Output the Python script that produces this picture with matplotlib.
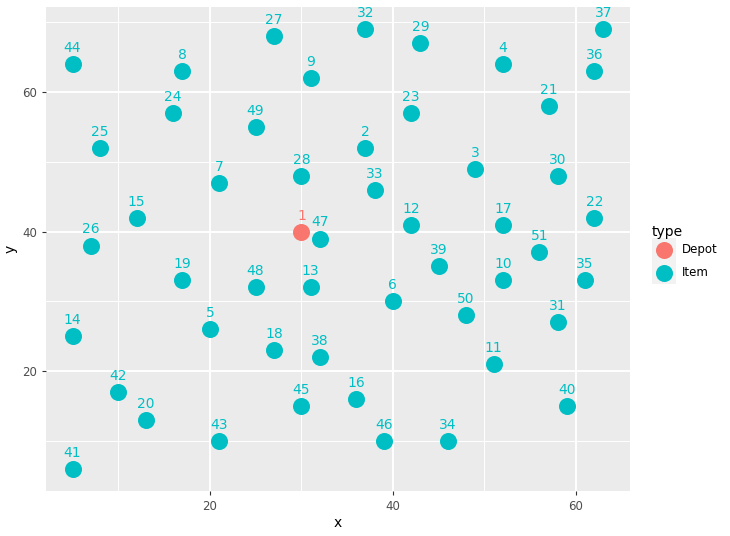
import matplotlib
matplotlib.use("Agg")
import matplotlib.pyplot as plt
from matplotlib.patches import Rectangle

ids = list(range(1, 52))
xs = [30, 37, 49, 52, 20, 40, 21, 17, 31, 52, 51, 42, 31, 5, 12, 36, 52, 27, 17, 13,
      57, 62, 42, 16, 8, 7, 27, 30, 43, 58, 58, 37, 38, 46, 61, 62, 63, 32, 45, 59,
      5, 10, 21, 5, 30, 39, 32, 25, 25, 48, 56]
ys = [40, 52, 49, 64, 26, 30, 47, 63, 62, 33, 21, 41, 32, 25, 42, 16, 41, 23, 33, 13,
      58, 42, 57, 57, 52, 38, 68, 48, 67, 48, 27, 69, 46, 10, 33, 63, 69, 22, 35, 15,
      6, 17, 10, 64, 15, 10, 39, 32, 55, 28, 37]
types = ["Depot"] + ["Item"] * 50
palette = {"Depot": "#F8766D", "Item": "#00BFC4"}
legend_levels = ["Depot", "Item"]

W, H = 730, 536
fig = plt.figure(figsize=(7.3, 5.36), dpi=100)
ax = fig.add_axes([46/W, 1 - 491/H, (630-46)/W, (491-7)/H])
ax.set_facecolor("#EBEBEB")
for s in ax.spines.values():
    s.set_visible(False)

xmin, xmax = min(xs), max(xs)
ymin, ymax = min(ys), max(ys)
dx = (xmax - xmin) * 0.05
dy = (ymax - ymin) * 0.05
ax.set_xlim(xmin - dx, xmax + dx)
ax.set_ylim(ymin - dy, ymax + dy)

ax.set_xticks([20, 40, 60])
ax.set_yticks([20, 40, 60])
ax.set_xticks([10, 30, 50], minor=True)
ax.set_yticks([10, 30, 50, 70], minor=True)
ax.grid(True, which="major", color="white", linewidth=1.4)
ax.grid(True, which="minor", color="white", linewidth=0.7)
ax.set_axisbelow(True)
ax.tick_params(which="major", length=3, color="#333333", labelcolor="#4D4D4D", labelsize=8.5)
ax.tick_params(which="minor", length=0)

for i, x, y, t in zip(ids, xs, ys, types):
    c = palette[t]
    ax.scatter([x], [y], s=150, color=c, zorder=3, linewidths=0)
    ax.annotate(str(i), (x, y), xytext=(0, 6.5), textcoords="offset points",
                ha="center", va="bottom", color=c, fontsize=10, zorder=4)

ax.set_xlabel("x", fontsize=10, labelpad=2)
ax.set_ylabel("y", fontsize=10, labelpad=3)

# manual ggplot-style legend in pixel coordinates
lax = fig.add_axes([0, 0, 1, 1], facecolor="none")
lax.set_xlim(0, W)
lax.set_ylim(H, 0)
lax.axis("off")
lax.text(652, 232, "type", fontsize=10, ha="left", va="center")
for k, lvl in enumerate(legend_levels):
    cy = 250 + k * 23
    lax.add_patch(Rectangle((652, cy - 12), 24, 23, facecolor="#F2F2F2", edgecolor="none"))
    lax.scatter([664], [cy], s=150, color=palette[lvl], linewidths=0, zorder=3)
    lax.text(682, cy, lvl, fontsize=8.5, ha="left", va="center")

fig.savefig("out.png", dpi=100)
